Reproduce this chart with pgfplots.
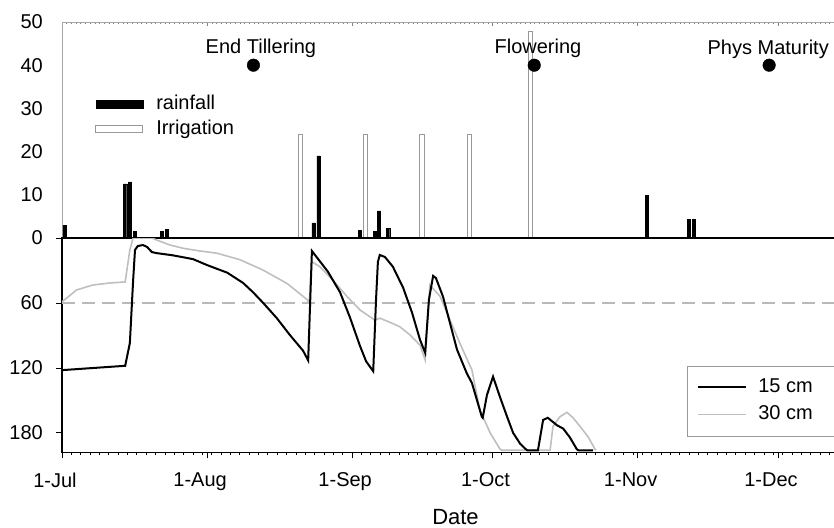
\documentclass[border=0pt]{standalone}
\usepackage{fontspec}
\setmainfont{Liberation Sans}
\usepackage{pgfplots}
\pgfplotsset{compat=1.18}
\begin{document}
\fontsize{20bp}{24bp}\selectfont
\begin{tikzpicture}
% ---------------- top panel: rainfall / irrigation ----------------
\begin{axis}[
  name=top, at={(0,0)}, anchor=south west,
  x=4.68bp, y=4.32bp,
  xmin=0, xmax=166, ymin=0, ymax=50,
  /pgf/number format/assume math mode=true,
  axis line style={draw=gray!70, line width=0.9bp},
  ytick={0,10,...,50}, ytick pos=left,
  major y tick style={draw=none},
  yticklabel style={inner sep=0pt, anchor=east, xshift=-19bp},
  xtick={31,62,92,123,153}, xticklabels={}, xtick pos=right,
  minor xtick={0,1,...,166},
  tick align=inside,
  major x tick style={draw=gray, line width=0.6bp},
  minor x tick style={draw=gray, line width=0.5bp},
  major tick length=4bp, minor tick length=2bp,
  legend style={at={(axis description cs:0.0427,0.665)}, anchor=north west,
    draw=none, fill=none, inner sep=0pt, row sep=6bp,
    nodes={inner sep=0pt, text height=15bp, text depth=4bp},
    /tikz/every odd column/.append style={column sep=13bp}},
  legend cell align=left,
]
\addplot[ybar, bar width=0.65, bar shift=0pt, fill=black, draw=black, line width=0.4bp,
  legend image code/.code={\fill[black] (0bp,-4bp) rectangle (47bp,4bp);}]
  coordinates {(0.5,3) (13.5,12.5) (14.5,13) (15.5,1.5) (21.4,1.5) (22.4,2)
  (53.7,3.5) (54.8,19) (63.7,1.8) (66.8,1.5) (67.7,6.3) (69.7,2.2)
  (124.9,9.8) (134,4.3) (135,4.3)};
\addlegendentry{rainfall}
\addplot[ybar, bar width=0.9, bar shift=0pt, fill=white, draw=gray!80, line width=0.9bp,
  legend image code/.code={\draw[gray!80, line width=0.9bp, fill=white] (0bp,-3.3bp) rectangle (47bp,3.3bp);}]
  coordinates {(50.9,24) (64.9,24) (76.9,24) (87.0,24) (100.1,47.8)};
\addlegendentry{Irrigation}
\addplot[only marks, mark=*, mark size=6.3bp, black, forget plot]
  coordinates {(40.9,40) (100.9,40) (151.1,40)};
\node[anchor=base, inner sep=0pt] at (axis cs:42.5,42.7) {End Tillering};
\node[anchor=base, inner sep=0pt] at (axis cs:101.7,42.7) {Flowering};
\node[anchor=base, inner sep=0pt] at (axis cs:150.9,42.5) {Phys Maturity};
\end{axis}
% ---------------- bottom panel: soil water ----------------
\begin{axis}[
  name=bot, at={(0,0)}, anchor=north west,
  x=4.68bp, y=1.083bp, y dir=reverse,
  xmin=0, xmax=166, ymin=0, ymax=198,
  /pgf/number format/assume math mode=true,
  axis line style={draw=black, line width=1.8bp},
  xtick={0,31,62,92,123,153},
  xticklabels={1-Jul,1-Aug,1-Sep,1-Oct,1-Nov,1-Dec},
  minor xtick={0,2,...,166},
  xtick pos=left, ytick pos=left,
  ytick={0,60,120,180}, yticklabels={,60,120,180},
  tick align=outside,
  major tick length=6bp, minor tick length=3bp,
  tick style={draw=black, line width=0.9bp},
  yticklabel style={inner sep=0pt, anchor=east, xshift=-13bp},
  xticklabel style={inner sep=0pt, anchor=north, yshift=-14bp, xshift=-7bp},
  xlabel={Date},
  xlabel style={font=\fontsize{22bp}{26bp}\selectfont, at={(axis description cs:0.5065,0)}, anchor=base, inner sep=0pt, yshift=-72bp},
  legend style={at={(axis description cs:0.8044,0.405)}, anchor=north west,
    draw=gray!80, line width=0.8bp, fill=white, inner xsep=10bp, inner ysep=12bp, row sep=8bp,
    nodes={inner sep=0pt, text height=15bp, text depth=4bp},
    /tikz/every odd column/.append style={column sep=11bp}},
  legend cell align=left,
  reverse legend,
  legend image code/.code={\draw[#1] (0bp,0bp) -- (48bp,0bp);},
]
\addplot[gray!55, line width=1.5bp, dash pattern=on 13bp off 7bp, forget plot]
  coordinates {(0,60) (166,60)};
\addplot[gray!50, line width=1.6bp] coordinates {
(0,59) (3.1,48) (6.6,43.4) (10.3,41.5) (13.5,40.6) (14.5,11) (15.2,0) (19.2,0)
(20.3,2) (23.1,6.5) (25.9,9.5) (29.5,12) (33.1,14) (38.0,20) (42.9,29.5)
(48.1,42) (52.4,57) (52.8,60) (53.4,22) (55.1,26.5) (57.9,39) (60.9,54)
(63.7,66.5) (66.9,76) (67.9,74) (70.7,79) (72.2,82) (74.4,89.6) (76.5,99)
(77.6,112.6) (78.6,43.4) (80.8,54) (82.9,75.7) (85.0,97) (87.6,122) (89.3,159)
(91.5,180) (93.6,195) (94.0,196) (104.3,196) (104.9,174) (106.4,165)
(107.9,161) (109.2,166) (110.7,174) (112.4,183.5) (113.9,195) (114.1,196)};
\addlegendentry{\makebox[66bp][l]{30 cm}}
\addplot[black, line width=2bp] coordinates {
(0,122) (13.5,118) (14.5,97) (15.2,39) (15.6,11) (16.2,7.4) (17.3,6.5)
(18.2,8.3) (19.2,13) (20.3,14) (23.7,16) (28.0,19.5) (31.0,25) (35.3,32)
(38.7,41.5) (40.8,50) (43.0,60) (45.9,74) (48.7,89.6) (51.5,104) (52.6,113)
(53.4,12) (56.8,31) (59.4,50) (61.5,73) (63.7,100) (65.0,114) (66.5,123)
(67.1,57) (67.5,22) (67.9,15.7) (69.0,17.5) (70.7,26.5) (72.9,46) (74.8,69)
(76.5,94) (77.6,106) (78.4,57) (79.3,35) (79.9,37) (81.4,54) (82.9,78.5)
(84.4,103) (86.5,125) (87.6,134) (89.7,165) (89.9,166) (90.8,145) (92.1,128)
(93.6,147) (95.1,165) (96.4,180) (97.9,190) (99.1,195) (99.4,196) (101.7,196)
(102.8,168) (103.8,166) (105.8,173) (107.1,176) (108.5,184) (110.0,195)
(110.3,196) (113.5,196)};
\addlegendentry{\makebox[66bp][l]{15 cm}}
\end{axis}
\pgfresetboundingbox
\path[use as bounding box] (-62bp,-290bp) rectangle (772bp,238bp);
\end{tikzpicture}
\end{document}
